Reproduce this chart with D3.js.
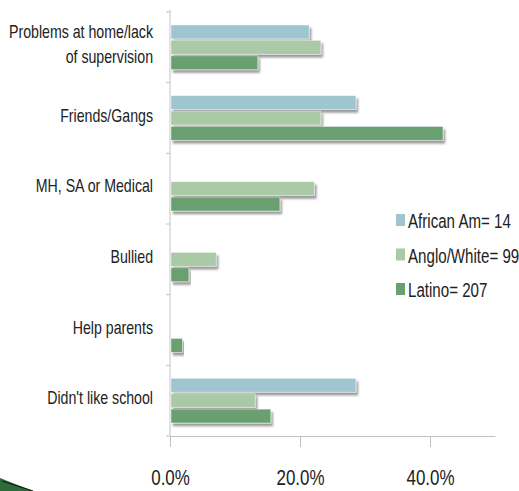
<!DOCTYPE html>
<html>
<head>
<meta charset="utf-8">
<script src="https://cdn.jsdelivr.net/npm/d3@7"></script>
<style>
  html, body { margin: 0; padding: 0; background: #fff; }
  svg { display: block; }
  .lbl { font-family: "Liberation Sans", Arial, sans-serif; fill: #222; }
</style>
</head>
<body>
<svg id="chart" width="519" height="491"></svg>
<script>
// Reasons for leaving school, share of each group (percent)
const categories = [
  "Problems at home/lack of supervision",
  "Friends/Gangs",
  "MH, SA or Medical",
  "Bullied",
  "Help parents",
  "Didn't like school"
];
const categoryLines = [
  ["Problems at home/lack", "of supervision"],
  ["Friends/Gangs"],
  ["MH, SA or Medical"],
  ["Bullied"],
  ["Help parents"],
  ["Didn't like school"]
];
const seriesNames = ["African Am= 14", "Anglo/White= 99", "Latino= 207"];
const africanAm  = [21.4, 28.6, 0, 0, 0, 28.6];
const angloWhite = [23.2, 23.2, 22.2, 7.1, 0, 13.1];
const latino     = [13.5, 42.0, 16.9, 2.9, 1.9, 15.5];
const seriesColors = ["#9fc5d1", "#a9c9a7", "#6a9f70"];
const xTicks = [0, 20, 40];
const xMax = 50;

const series = [africanAm, angloWhite, latino];

const svg = d3.select("#chart");
const plotLeft = 170, plotRight = 495, plotTop = 12, plotBottom = 436;

const x = d3.scaleLinear().domain([0, xMax]).range([plotLeft, plotRight]);
const y = d3.scaleBand().domain(categories).range([plotTop, plotBottom]);
const ySub = d3.scaleBand().domain(d3.range(series.length))
  .range([13, y.bandwidth() - 13]).paddingInner(0.1);

// soft drop shadow under each bar
const defs = svg.append("defs");
const f = defs.append("filter").attr("id", "shadow").attr("x", "-5%").attr("y", "-30%").attr("width", "115%").attr("height", "180%");
f.append("feGaussianBlur").attr("in", "SourceAlpha").attr("stdDeviation", 0.8).attr("result", "b");
f.append("feOffset").attr("in", "b").attr("dx", 2).attr("dy", 3).attr("result", "o");
f.append("feComponentTransfer").attr("in", "o").attr("result", "s")
  .append("feFuncA").attr("type", "linear").attr("slope", 0.4);
const m = f.append("feMerge");
m.append("feMergeNode").attr("in", "s");
m.append("feMergeNode").attr("in", "SourceGraphic");

// axes
const axisColor = "#c4c0c2";
const yAxis = svg.append("g").attr("transform", `translate(${plotLeft},0)`)
  .call(d3.axisLeft(y).tickValues([]).tickSizeOuter(0));
yAxis.select(".domain").attr("stroke", axisColor).attr("d", `M0,${plotTop - 2}V${plotBottom}`);
// category boundary ticks
svg.append("g").selectAll("line")
  .data(d3.range(categories.length + 1))
  .join("line")
  .attr("x1", plotLeft - 4).attr("x2", plotLeft)
  .attr("y1", i => plotTop + i * y.step()).attr("y2", i => plotTop + i * y.step())
  .attr("stroke", axisColor);

// condensed lettering via a horizontal squeeze around each text's anchor
const xAxis = svg.append("g").attr("transform", `translate(0,${plotBottom})`)
  .call(d3.axisBottom(x).tickValues(xTicks).tickSize(11).tickSizeOuter(0)
    .tickFormat(d => d.toFixed(1) + "%"));
xAxis.select(".domain").attr("stroke", axisColor);
xAxis.selectAll(".tick line").attr("stroke", axisColor);
xAxis.selectAll(".tick text")
  .attr("class", "lbl")
  .attr("y", 49)
  .attr("dy", null)
  .style("font-size", "22px")
  .attr("fill", "#222")
  .attr("transform", "scale(0.77,1)");

// bars
const groups = svg.append("g").selectAll("g")
  .data(categories)
  .join("g")
  .attr("transform", d => `translate(0,${y(d)})`);

groups.each(function(cat, ci) {
  const g = d3.select(this);
  series.forEach((vals, si) => {
    const v = vals[ci];
    if (v <= 0) return;
    g.append("rect")
      .attr("x", x(0) + 1)
      .attr("y", ySub(si))
      .attr("width", x(v) - x(0) - 1)
      .attr("height", ySub.bandwidth())
      .attr("fill", seriesColors[si])
      .attr("stroke", "#ffffff")
      .attr("stroke-opacity", 0.5)
      .attr("stroke-width", 0.8)
      .attr("filter", "url(#shadow)");
  });
});

// category labels, one text per line
const labelData = [];
categoryLines.forEach((lines, i) => {
  const c = y(categories[i]) + y.bandwidth() / 2;
  lines.forEach((t, j) => {
    const base = lines.length === 1 ? c + 3.5 : c - 9.5 + j * 25.5;
    labelData.push({ t, base });
  });
});
svg.append("g").selectAll("text")
  .data(labelData)
  .join("text")
  .attr("class", "lbl")
  .style("font-size", "17.5px")
  .attr("text-anchor", "end")
  .attr("transform", d => `translate(153,${d.base}) scale(0.81,1)`)
  .text(d => d.t);

// legend
const legend = svg.append("g").attr("transform", "translate(396,228)");
const lg = legend.selectAll("g").data(seriesNames).join("g")
  .attr("transform", (d, i) => `translate(0,${i * 34.5})`);
lg.append("rect").attr("x", 0).attr("y", -14).attr("width", 9).attr("height", 12)
  .attr("fill", (d, i) => seriesColors[i]);
lg.append("text").attr("class", "lbl")
  .attr("transform", "translate(12,0) scale(0.72,1)")
  .style("font-size", "21px")
  .text(d => d);

// corner swoosh
svg.append("path")
  .attr("d", "M0,478 L33,491 L0,491 Z")
  .attr("fill", "#2f6a3c");
svg.append("path")
  .attr("d", "M2,481 L33,491")
  .attr("fill", "none").attr("stroke", "#0d2212").attr("stroke-width", 1.2);
</script>
</body>
</html>
